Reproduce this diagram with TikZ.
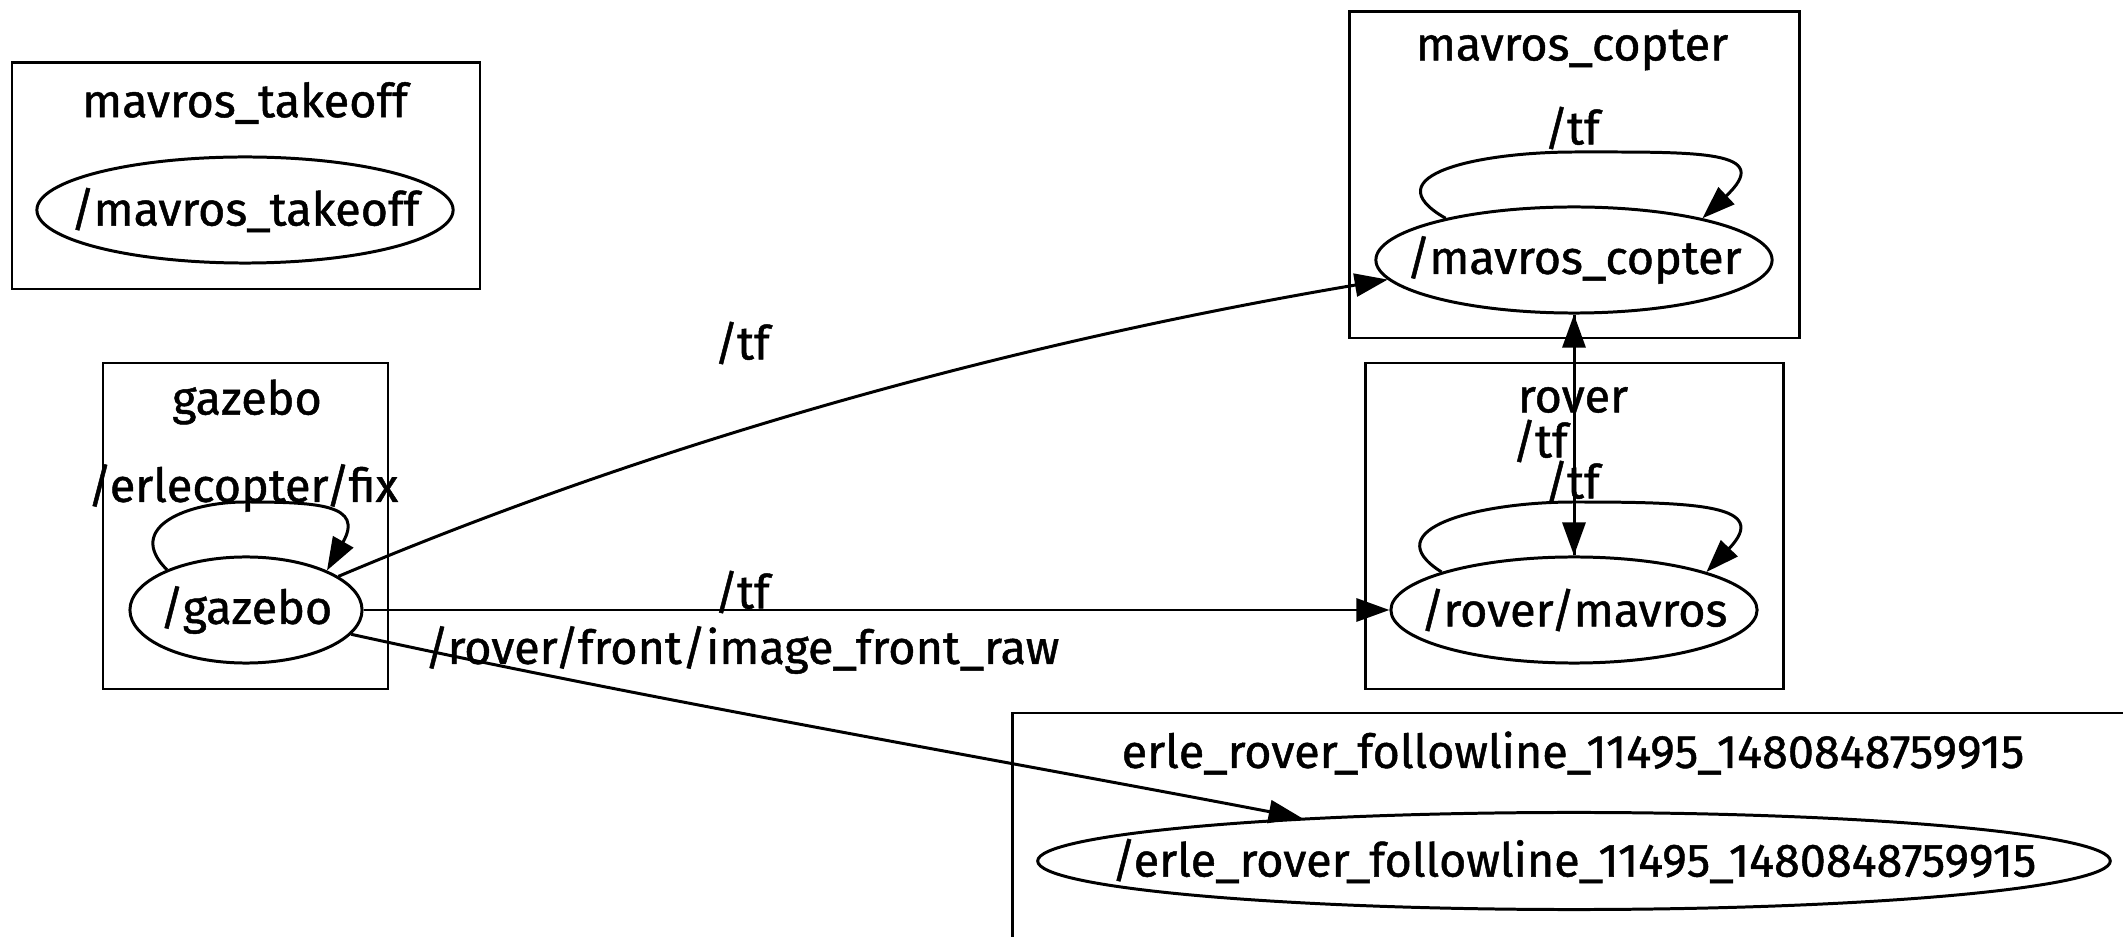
\documentclass[tikz,border=0pt]{standalone}
\usepackage{fontspec}
\setmainfont{Fira Sans}[RawFeature={embolden=1.0}]
\usetikzlibrary{arrows.meta, shapes.geometric}
\newcommand{\tname}[1]{\makebox[0pt]{#1}}

\begin{document}
\begin{tikzpicture}[x=0.01cm, y=-0.01cm,
  font=\fontsize{13.3}{15}\selectfont,
  cluster/.style={draw, line width=0.85pt},
  topic/.style={draw, ellipse, line width=0.85pt, inner sep=0pt},
  edge/.style={line width=0.85pt, -{Triangle[length=0.33cm, width=0.23cm]}}]
\useasboundingbox (0,0) rectangle (2123,937);
\clip (0,0) rectangle (2123,937);

% clusters
\draw[cluster] (12,63) rectangle (480,289);
\draw[cluster] (1349,12) rectangle (1799,338);
\draw[cluster] (103,363) rectangle (388,689);
\draw[cluster] (1365,363) rectangle (1783,689);
\draw[cluster] (1012,713) rectangle (2200,1000);

\node (ttk) at (245,103) {mavros\_takeoff};
\node (tcp) at (1572,50) {mavros\_copter};
\node (tgz) at (247,402) {gazebo};
\node (trv) at (1573,400) {rover};
\node (ter) at (1573,753) {erle\_rover\_followline\_11495\_1480848759915};

% topics
\node (tk) at (245,210) [topic, minimum width=4.16cm, minimum height=1.06cm] {\tname{/mavros\_takeoff}};
\node (cp) at (1574,260) [topic, minimum width=3.96cm, minimum height=1.06cm] {\tname{/mavros\_copter}};
\node (gz) at (246,610) [topic, minimum width=2.32cm, minimum height=1.06cm] {\tname{/gazebo}};
\node (rv) at (1574,610) [topic, minimum width=3.66cm, minimum height=1.06cm] {\tname{/rover/mavros}};
\node (er) at (1574,861) [topic, minimum width=10.72cm, minimum height=0.97cm] {\tname{/erle\_rover\_followline\_11495\_1480848759915}};

% self loops
\draw[edge] (gz.153) .. controls (124,527) and (188,502) .. (245,502)
  .. controls (320,502) and (364,505) .. (gz.26);
\draw[edge] (cp.162) .. controls (1370,175) and (1480,152) .. (1575,152)
  .. controls (1700,152) and (1775,150) .. (cp.18);
\draw[edge] (rv.164) .. controls (1373,529) and (1479,502) .. (1574,502)
  .. controls (1699,502) and (1771,505) .. (rv.16);

% edges
\draw[edge] (gz.20) .. controls (685,430) and (1042,338) .. (cp.186);
\draw[edge] (gz.east) -- (rv.west);
\draw[edge] (gz.-13) .. controls (650,700) and (1000,760) .. (er.171);
\draw[edge] (rv.north) -- (cp.south);
\draw[edge] (cp.south) -- (rv.north);

\node (lfix) at (243,488) {/erlecopter/fix};
\node (lcp) at (1572,128) {/tf};
\node (ltf1) at (742,343) {/tf};
\node (ltf2) at (742,592) {/tf};
\node (limg) at (742,650) {/rover/front/image\_front\_raw};
\node (lrv1) at (1540,441) {/tf};
\node (lrv2) at (1572,482) {/tf};
\end{tikzpicture}
\end{document}
